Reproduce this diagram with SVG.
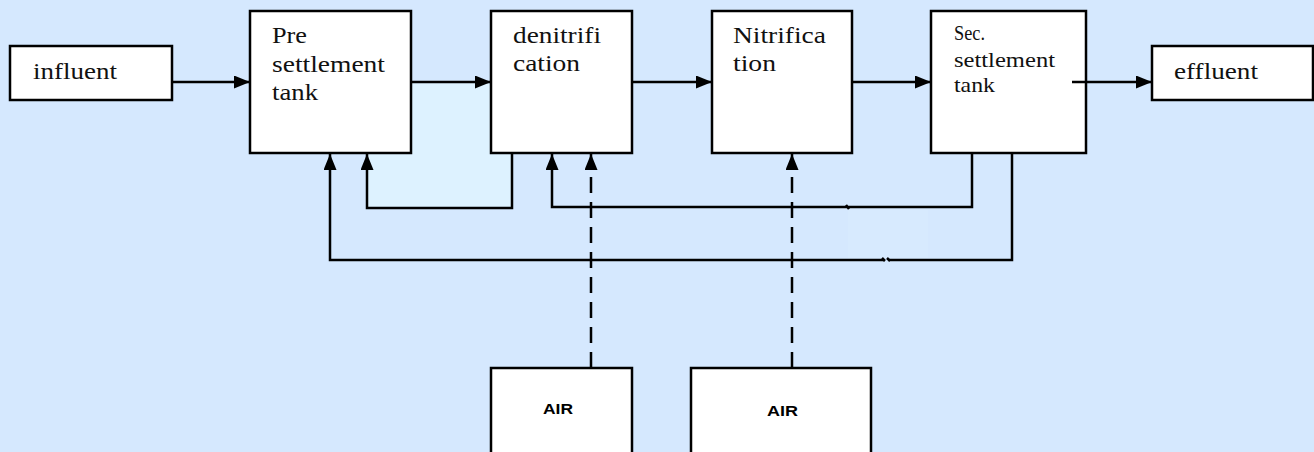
<svg xmlns="http://www.w3.org/2000/svg" width="1314" height="452" viewBox="0 0 1314 452">
<style>
.box{fill:#fff;stroke:#000;stroke-width:2.5}
.t{font-family:"Liberation Serif","Times New Roman",serif;font-size:24px;fill:#111}
.ts{font-family:"Liberation Serif","Times New Roman",serif;font-size:21px;fill:#111}
.air{font-family:"Liberation Sans",Arial,sans-serif;font-size:15px;font-weight:bold;fill:#000}
.ln{fill:none;stroke:#000;stroke-width:2.5}
.dash{fill:none;stroke:#000;stroke-width:2.5;stroke-dasharray:16 9}
</style>
<defs>
<marker id="ah" markerUnits="userSpaceOnUse" markerWidth="16" markerHeight="14" refX="16" refY="6.5" orient="auto">
<path d="M0,0 L16,6.5 L0,13 z" fill="#000"/>
</marker>
</defs>
<rect x="0" y="0" width="1314" height="452" fill="#D5E8FE"/>
<rect x="367" y="82" width="145" height="126" fill="#DDF2FF"/>
<rect x="848" y="210" width="80" height="48" fill="#D7EAFE"/>

<g id="influent"><rect class="box" x="10" y="46" width="162" height="54"/><text class="t" x="33" y="79" textLength="84" lengthAdjust="spacingAndGlyphs">influent</text></g>
<g id="presettlement"><rect class="box" x="250" y="11" width="161" height="142"/>
<text class="t" x="272" y="43" textLength="35" lengthAdjust="spacingAndGlyphs">Pre</text>
<text class="t" x="272" y="72" textLength="113" lengthAdjust="spacingAndGlyphs">settlement</text>
<text class="t" x="272" y="100" textLength="46" lengthAdjust="spacingAndGlyphs">tank</text></g>
<g id="denitrification"><rect class="box" x="491" y="11" width="141" height="142"/>
<text class="t" x="513" y="43" textLength="88" lengthAdjust="spacingAndGlyphs">denitrifi</text>
<text class="t" x="513" y="71" textLength="67" lengthAdjust="spacingAndGlyphs">cation</text></g>
<g id="nitrification"><rect class="box" x="712" y="11" width="140" height="142"/>
<text class="t" x="733" y="43" textLength="93" lengthAdjust="spacingAndGlyphs">Nitrifica</text>
<text class="t" x="733" y="71" textLength="43" lengthAdjust="spacingAndGlyphs">tion</text></g>
<g id="secsettlement"><rect class="box" x="931" y="11" width="155" height="142"/>
<text class="ts" x="954" y="40" textLength="31" lengthAdjust="spacingAndGlyphs">Sec.</text>
<text class="ts" x="954" y="67" textLength="101" lengthAdjust="spacingAndGlyphs">settlement</text>
<text class="ts" x="954" y="92" textLength="41" lengthAdjust="spacingAndGlyphs">tank</text></g>
<g id="effluent"><rect class="box" x="1152" y="46" width="161" height="54"/><text class="t" x="1174" y="79" textLength="84" lengthAdjust="spacingAndGlyphs">effluent</text></g>
<g id="air1"><rect class="box" x="491" y="368" width="141" height="100"/><text class="air" x="543" y="414" textLength="30" lengthAdjust="spacingAndGlyphs">AIR</text></g>
<g id="air2"><rect class="box" x="691" y="368" width="180" height="100"/><text class="air" x="767" y="416" textLength="31" lengthAdjust="spacingAndGlyphs">AIR</text></g>

<g id="connectors">
<path class="ln" d="M172,82 H250" marker-end="url(#ah)"/>
<path class="ln" d="M411,82 H491" marker-end="url(#ah)"/>
<path class="ln" d="M632,82 H712" marker-end="url(#ah)"/>
<path class="ln" d="M852,82 H931" marker-end="url(#ah)"/>
<path class="ln" d="M1072,82 H1152" marker-end="url(#ah)"/>
<path class="ln" d="M512,153 V208 H367 V154" marker-end="url(#ah)"/>
<path class="ln" d="M972,153 V207 H552 V154" marker-end="url(#ah)"/>
<path class="ln" d="M1012,153 V260 H889"/>
<path class="ln" d="M884,260 H330 V154" marker-end="url(#ah)"/>
<path class="ln" d="M846,205 L849,209" stroke-width="1.5"/>
<path class="ln" d="M882,258 L885,261 M887,258 L890,261" stroke-width="1.2"/>
<path class="dash" d="M591,368 V154" marker-end="url(#ah)"/>
<path class="dash" d="M792,368 V154" marker-end="url(#ah)"/>
</g>
</svg>
